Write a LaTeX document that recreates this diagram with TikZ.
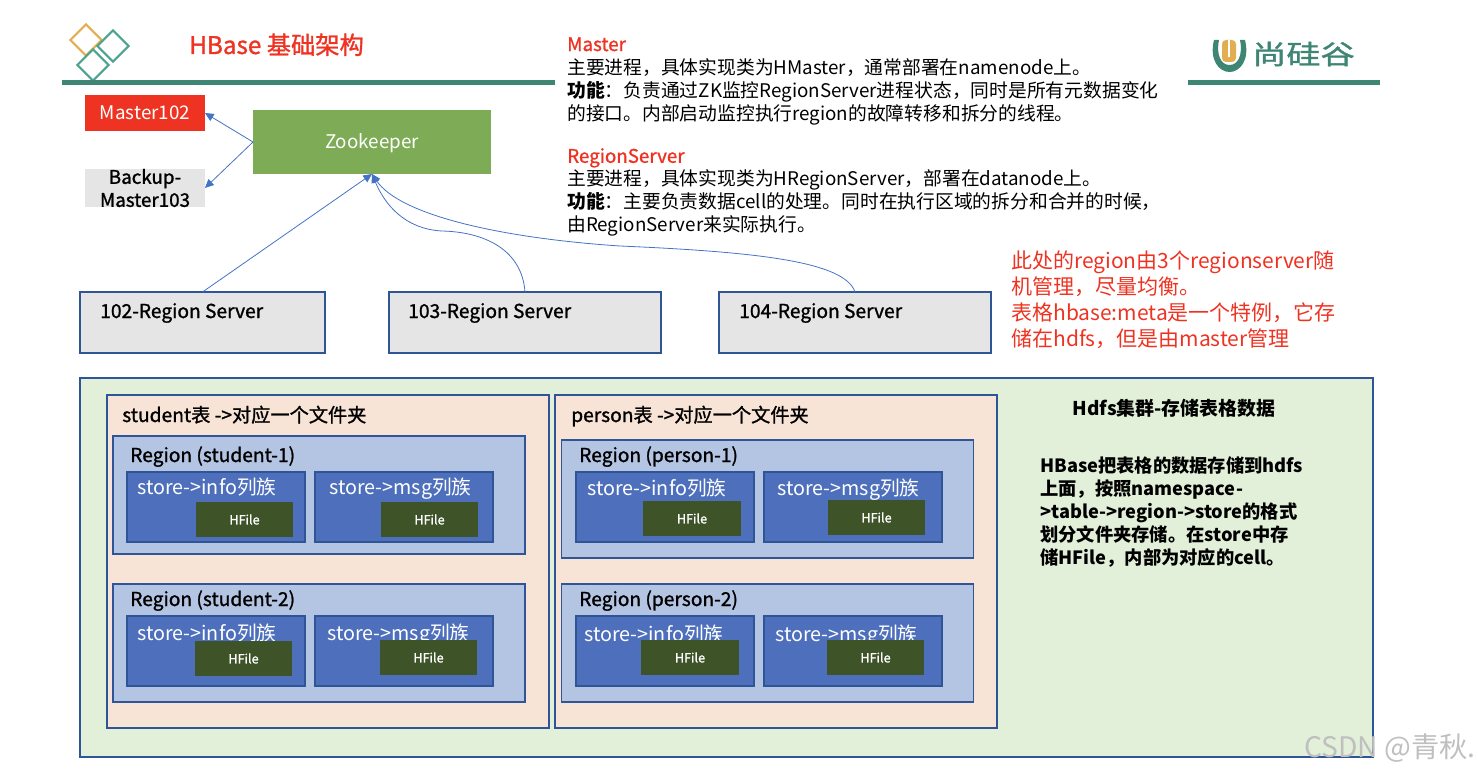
\documentclass[tikz,border=0pt]{standalone}
\usepackage{fontspec}
\setmainfont{Noto Sans CJK SC}
\newfontfamily\medfont[FakeBold=1.2]{Noto Sans CJK SC}
\usepackage{xcolor}
\usepackage{graphicx}
\usepackage{tikz}
\usetikzlibrary{arrows.meta,positioning,shapes.geometric,calc}
\definecolor{HBred}{HTML}{EE3322}
\definecolor{HBteal}{HTML}{3E8573}
\definecolor{HBorange}{HTML}{E3AE52}
\definecolor{HBlogo}{HTML}{4EA38E}
\definecolor{HBline}{HTML}{2F5597}
\definecolor{HBarrow}{HTML}{4472C4}
\definecolor{HBzk}{HTML}{7EAB55}
\definecolor{HBpanel}{HTML}{E2F0D9}
\definecolor{HBtable}{HTML}{F7E4D6}
\definecolor{HBregion}{HTML}{B4C5E3}
\definecolor{HBstore}{HTML}{4E70BC}
\definecolor{HBhfile}{HTML}{3F5329}
\tikzset{
  box/.style={draw=HBline,line width=0.8pt,outer sep=0pt,inner sep=0pt},
  masterbox/.style={fill=HBred,text=white,outer sep=0pt,minimum width=90pt,minimum height=27pt,text height=11pt,text depth=2pt,font=\fontsize{14.1}{17}\selectfont},
  backupbox/.style={fill=black!10,align=center,outer sep=0pt,inner sep=0pt,minimum width=90pt,minimum height=28.5pt,font=\medfont\fontsize{14.1}{17.25}\selectfont},
  zkbox/.style={fill=HBzk,text=white,outer sep=0pt,minimum width=178.5pt,minimum height=48pt,text height=12pt,text depth=2pt,font=\fontsize{14.1}{17}\selectfont},
  rsbox/.style={box,fill=black!10,minimum height=45.75pt},
  panelbox/.style={box,fill=HBpanel,minimum width=969.75pt,minimum height=284.25pt},
  tablebox/.style={box,fill=HBtable,minimum width=331.5pt,minimum height=249.75pt},
  regionbox/.style={box,fill=HBregion,minimum width=309pt,minimum height=88.5pt},
  storebox/.style={box,fill=HBstore,minimum width=133.5pt,minimum height=52.5pt},
  hfilebox/.style={fill=HBhfile,text=white,outer sep=0pt,minimum width=73pt,minimum height=26pt,font=\medfont\fontsize{9.5}{11}\selectfont},
  boxtitle/.style={anchor=base west,inner sep=0pt,font=\medfont\fontsize{14.4}{16}\selectfont},
  storetitle/.style={anchor=base west,inner sep=0pt,text=white,font=\fontsize{14.8}{16}\selectfont},
  infotext/.style={anchor=north west,inner sep=0pt,align=left,font=\fontsize{14.08}{17.25}\selectfont},
  notetext/.style={anchor=north west,inner sep=0pt,align=left,text=HBred,font=\fontsize{15.75}{19.5}\selectfont},
  hdfstext/.style={anchor=north west,inner sep=0pt,align=left,font=\bfseries\fontsize{13.7}{17.4}\selectfont},
  logodiamond/.style={draw,diamond,aspect=1,fill=white,line width=1.6pt,inner sep=0pt,minimum size=24pt},
  arr/.style={-{Triangle[length=6.5pt,width=6pt]},HBarrow,line width=0.6pt}
}
\begin{document}
\begin{tikzpicture}[x=0.75pt,y=-0.75pt]
  \useasboundingbox (0,0) rectangle (1478,774);

  % header
  \node[logodiamond,draw=HBorange] (logoa) at (86,40) {};
  \node[logodiamond,draw=HBlogo] (logob) at (113,46) {};
  \node[logodiamond,draw=HBlogo] (logoc) at (93,65) {};
  \draw[HBteal,line width=3.75pt] (62,83) -- (555,83);
  \draw[HBteal,line width=3.75pt] (1188,83) -- (1380,83);
  \node[anchor=base west,inner sep=0pt,text=HBred,font=\medfont\fontsize{18.2}{20}\selectfont] (title) at (189,54) {HBase 基础架构};

  \fill[HBteal] (1214,40) .. controls (1209,60) and (1219,72) .. (1229.5,72) .. controls (1240,72) and (1250,60) .. (1245,40) -- (1240,40) .. controls (1243,55) and (1238,65) .. (1229.5,65) .. controls (1221,65) and (1216,55) .. (1219,40) -- cycle;
  \fill[HBorange,rounded corners=3pt] (1222,40) rectangle (1236,62);
  \draw[white,line width=1.6pt] (1229,40) -- (1229,57);
  \node[anchor=west,inner sep=0pt,text=HBteal,font=\medfont\fontsize{20}{24}\selectfont] (brand) at (1252,54) {\scalebox{1.28}[1]{尚硅谷}};

  % masters and zookeeper
  \node[masterbox] (master) at (145,113) {Master102};
  \node[backupbox] (backup) at (145,188) {Backup-\\Master103};
  \node[zkbox] (zk) at (372,142) {Zookeeper};
  \draw[arr] (zk.west) -- (master.east);
  \draw[arr] (zk.west) -- (backup.east);

  % region servers
  \node[rsbox,minimum width=183.75pt] (rs102) at (202.5,322.5) {};
  \node[rsbox,minimum width=204pt] (rs103) at (525,322.5) {};
  \node[rsbox,minimum width=204pt] (rs104) at (855,322.5) {};
  \node[boxtitle] (rs102text) at (100,318) {102-Region Server};
  \node[boxtitle] (rs103text) at (408,318) {103-Region Server};
  \node[boxtitle] (rs104text) at (739,318) {104-Region Server};
  \draw[arr] (rs102.north) -- (zk.south);
  \draw[arr] (rs103.north) .. controls (522,250) and (485,232) .. (442,231) .. controls (405,229) and (385,205) .. (zk.south);
  \draw[arr] (rs104.north) .. controls (845,262) and (760,252) .. (620,246) .. controls (500,238) and (400,215) .. (zk.south);

  % descriptions
  \node[infotext] (masterinfo) at (567,37) {\textcolor{HBred}{\medfont Master}\\
    主要进程，具体实现类为HMaster，通常部署在namenode上。\\
    \textbf{功能}：负责通过ZK监控RegionServer进程状态，同时是所有元数据变化\\
    的接口。内部启动监控执行region的故障转移和拆分的线程。};
  \node[infotext] (rsinfo) at (567,148) {\textcolor{HBred}{\medfont RegionServer}\\
    主要进程，具体实现类为HRegionServer，部署在datanode上。\\
    \textbf{功能}：主要负责数据cell的处理。同时在执行区域的拆分和合并的时候，\\
    由RegionServer来实际执行。};
  \node[notetext] (note) at (1011,251) {此处的region由3个regionserver随\\
    机管理，尽量均衡。\\
    表格hbase:meta是一个特例，它存\\
    储在hdfs，但是由master管理};

  % hdfs
  \node[panelbox] (hdfs) at (726.5,567.5) {};
  \node[tablebox] (student) at (328,561.5) {};
  \node[tablebox,right=4.5pt of student] (person) {};
  \node[boxtitle] (studenttext) at (122,422) {student表 ->对应一个文件夹};
  \node[boxtitle] (persontext) at (571,422) {person表 ->对应一个文件夹};

  \node[regionbox] (rstudenta) at (319,495) {};
  \node[regionbox] (rstudentb) at (319,643) {};
  \node[regionbox] (rpersona) at (767.5,499) {};
  \node[regionbox] (rpersonb) at (767.5,643) {};
  \node[boxtitle] at (130,462) {Region (student-1)};
  \node[boxtitle] at (130,606) {Region (student-2)};
  \node[boxtitle] at (579,462) {Region (person-1)};
  \node[boxtitle] at (579,606) {Region (person-2)};

  \node[storebox] (sainfo) at (216,507) {};
  \node[storebox,right=7.5pt of sainfo] (samsg) {};
  \node[storebox] (sbinfo) at (216,651) {};
  \node[storebox,right=7.5pt of sbinfo] (sbmsg) {};
  \node[storebox] (painfo) at (665,507) {};
  \node[storebox,right=7.5pt of painfo] (pamsg) {};
  \node[storebox] (pbinfo) at (665,651) {};
  \node[storebox,right=7.5pt of pbinfo] (pbmsg) {};

  \node[storetitle] at (137,494) {store->info列族};
  \node[storetitle] at (329,494) {store->msg列族};
  \node[storetitle] at (137,640) {store->info列族};
  \node[storetitle] at (327,640) {store->msg列族};
  \node[storetitle] at (587,495) {store->info列族};
  \node[storetitle] at (777,495) {store->msg列族};
  \node[storetitle] at (584,641) {store->info列族};
  \node[storetitle] at (775,641) {store->msg列族};

  \node[hfilebox] (hfsai) at (244.5,519.5) {HFile};
  \node[hfilebox] (hfsam) at (429.5,519.5) {HFile};
  \node[hfilebox] (hfsbi) at (243.5,658.5) {HFile};
  \node[hfilebox] (hfsbm) at (428.5,657.5) {HFile};
  \node[hfilebox] (hfpai) at (692,518.5) {HFile};
  \node[hfilebox] (hfpam) at (876.5,517.5) {HFile};
  \node[hfilebox] (hfpbi) at (690,657.5) {HFile};
  \node[hfilebox] (hfpbm) at (875.5,657.5) {HFile};

  \node[anchor=center,inner sep=0pt,font=\bfseries\fontsize{14.2}{16}\selectfont] (hdfstitle) at (1174,408) {Hdfs集群-存储表格数据};
  \node[hdfstext] (hdfsinfo) at (1040,456) {HBase把表格的数据存储到hdfs\\
    上面，按照namespace-\\
    >table->region->store的格式\\
    划分文件夹存储。在store中存\\
    储HFile，内部为对应的cell。};

  \node[anchor=center,inner sep=0pt,text=black!25,font=\fontsize{21.2}{24}\selectfont] (mark) at (1390,748) {CSDN @青秋.};
\end{tikzpicture}
\end{document}
